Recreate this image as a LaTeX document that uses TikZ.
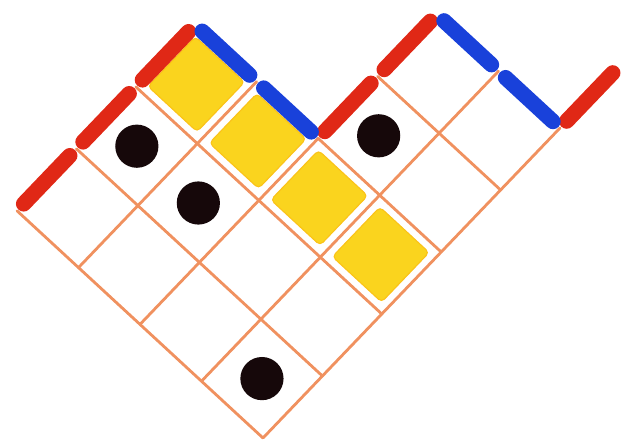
\documentclass[tikz,border=0pt]{standalone}
\usetikzlibrary{calc}
\definecolor{mred}{RGB}{224,40,22}
\definecolor{mblue}{RGB}{25,65,218}
\definecolor{myel}{RGB}{250,212,30}
\definecolor{mgrid}{RGB}{240,145,95}
\definecolor{mdot}{RGB}{22,8,10}
\begin{document}
\begin{tikzpicture}[
  gridline/.style={draw=mgrid,line width=2pt,line cap=round},
  upstep/.style={draw=mred,line width=11pt,line cap=round,
                 shorten <=0.24cm,shorten >=0.24cm},
  downstep/.style={upstep,draw=mblue},
  box/.style={fill=myel,draw=myel!80!orange,line width=0.8pt,rounded corners=3pt},
  dot/.style={circle,fill=mdot,minimum size=1.08cm,inner sep=0pt}]
  \useasboundingbox (0,0) rectangle (15.575,11.15);
  \begin{scope}[shift={(6.575,0.2)},x={(-1.5375cm,1.42cm)},y={(1.485cm,1.55cm)}]
    % grid
    \foreach \k/\len in {0/5,1/5,2/3,3/3}
      \draw[gridline] (\k,0) -- (\k,\len);
    \foreach \k/\len in {0/4,1/4,2/4,3/2,4/2}
      \draw[gridline] (0,\k) -- (\len,\k);
    % yellow column
    \foreach \i in {0,...,3}
      \path[box] (\i+0.1,2.1) -- (\i+0.9,2.1) -- (\i+0.9,2.9) -- (\i+0.1,2.9) -- cycle;
    % boundary path
    \coordinate (p0) at (4,0);
    \coordinate (p1) at (4,1);
    \coordinate (p2) at (4,2);
    \coordinate (p3) at (4,3);
    \coordinate (p4) at (3,3);
    \coordinate (p5) at (2,3);
    \coordinate (p6) at (2,4);
    \coordinate (p7) at (2,5);
    \coordinate (p8) at (1,5);
    \coordinate (p9) at (0,5);
    \coordinate (p10) at (0,6);
    \foreach \a/\b in {p0/p1,p1/p2,p2/p3,p5/p6,p6/p7,p9/p10}
      \draw[upstep] (\a) -- (\b);
    \foreach \a/\b in {p3/p4,p4/p5,p7/p8,p8/p9}
      \draw[downstep] (\a) -- (\b);
    % dots
    \node[dot] (d1) at (3.5,1.5) {};
    \node[dot] (d2) at (2.5,1.5) {};
    \node[dot] (d3) at (1.5,3.5) {};
    \node[dot] (d4) at (0.5,0.5) {};
  \end{scope}
\end{tikzpicture}
\end{document}
